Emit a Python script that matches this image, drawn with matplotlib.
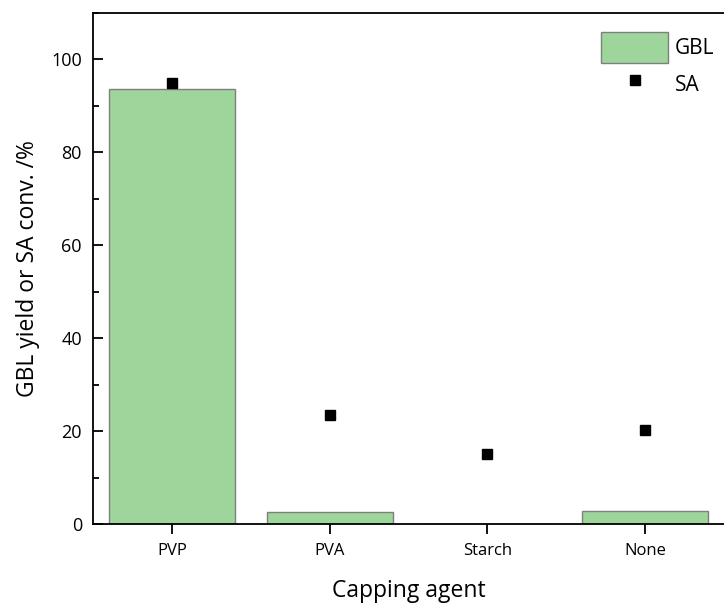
import matplotlib.pyplot as plt
from matplotlib.ticker import MultipleLocator

plt.rcParams['font.family'] = ['Open Sans', 'DejaVu Sans']

agents = ['PVP', 'PVA', 'Starch', 'None']
gbl_yield = [93.7, 2.6, 0.0, 2.9]
sa_conv = [95.0, 23.5, 15.1, 20.3]

fig = plt.figure(figsize=(7.24, 6.10), dpi=100)
ax = fig.add_axes([0.1285, 0.141, 0.8715, 0.8377])

x = list(range(len(agents)))
bars = ax.bar(x, gbl_yield, width=0.8, color='#9dd59b', edgecolor='#7f7f7f',
              linewidth=1.0, label='GBL', zorder=2)
pts, = ax.plot(x, sa_conv, linestyle='none', marker='s', markersize=7,
               color='black', label='SA', zorder=3)

ax.set_xlim(-0.5, 3.5)
ax.set_ylim(0, 110)
ax.set_xticks(x)
ax.set_xticklabels(agents)
ax.yaxis.set_major_locator(MultipleLocator(20))
ax.yaxis.set_minor_locator(MultipleLocator(10))

ax.spines['right'].set_visible(False)
for s in ['left', 'top', 'bottom']:
    ax.spines[s].set_linewidth(1.3)

ax.tick_params(axis='y', which='major', direction='in', length=7, width=1.3,
               labelsize=13, pad=8)
ax.tick_params(axis='y', which='minor', direction='in', length=4, width=1.3)
ax.tick_params(axis='x', which='major', direction='out', length=7, width=1.3,
               labelsize=12, pad=7)

ax.set_xlabel('Capping agent', fontsize=16.5, labelpad=14)
ax.set_ylabel('GBL yield or SA conv. /%', fontsize=16.5, labelpad=8)

ax.legend([bars, pts], ['GBL', 'SA'], loc='upper right',
          bbox_to_anchor=(1.005, 0.987), borderaxespad=0.2, frameon=False,
          fontsize=15, handlelength=3.2, handleheight=1.9, handletextpad=0.35,
          labelspacing=0.3)

fig.savefig('out.png', dpi=100)
